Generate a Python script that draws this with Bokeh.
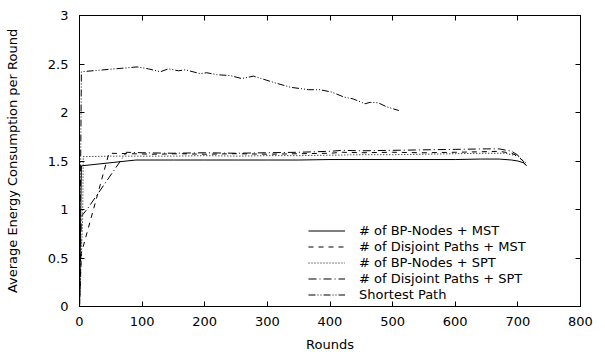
from bokeh.plotting import figure
from bokeh.models import Range1d, FixedTicker, LinearAxis, Legend, LegendItem, CustomJSTickFormatter
from bokeh.embed import file_html
from bokeh.resources import INLINE

# ---- data ----
x_ticks = [0, 100, 200, 300, 400, 500, 600, 700, 800]
y_ticks = [0, 0.5, 1, 1.5, 2, 2.5, 3]

bp_mst_x = [0, 3, 90, 150, 200, 250, 300, 350, 400, 450, 500, 550, 600, 640, 670, 690, 700, 710, 714]
bp_mst_y = [0, 1.45, 1.51, 1.51, 1.51, 1.51, 1.51, 1.51, 1.515, 1.515, 1.515, 1.515, 1.515, 1.52, 1.52, 1.51, 1.50, 1.48, 1.45]

dj_mst_x = [0, 3, 47, 80, 120, 160, 200, 250, 300, 350, 400, 420, 450, 500, 550, 600, 640, 670, 690, 700, 713]
dj_mst_y = [0, 0.55, 1.58, 1.575, 1.57, 1.575, 1.57, 1.575, 1.57, 1.575, 1.58, 1.59, 1.585, 1.59, 1.585, 1.59, 1.595, 1.60, 1.58, 1.55, 1.47]

bp_spt_x = [0, 5, 6, 50, 100, 150, 200, 250, 300, 350, 400, 450, 500, 550, 600, 650, 680, 700, 713]
bp_spt_y = [0, 0.9, 1.545, 1.55, 1.55, 1.55, 1.555, 1.55, 1.555, 1.555, 1.56, 1.565, 1.565, 1.57, 1.575, 1.58, 1.58, 1.55, 1.48]

dj_spt_x = [0, 3, 13, 75, 100, 150, 200, 250, 300, 350, 400, 420, 450, 500, 550, 600, 650, 670, 690, 700, 712]
dj_spt_y = [0, 0.93, 1.01, 1.59, 1.585, 1.58, 1.585, 1.58, 1.585, 1.59, 1.60, 1.61, 1.605, 1.61, 1.615, 1.62, 1.625, 1.625, 1.60, 1.56, 1.46]

sp_x = [0, 3, 92, 110, 129, 142, 158, 169, 193, 203, 219, 241, 259, 278, 310, 337, 366, 384, 403, 422, 437, 456, 464, 477, 490, 510]
sp_y = [0, 2.42, 2.47, 2.45, 2.42, 2.45, 2.43, 2.44, 2.40, 2.41, 2.39, 2.38, 2.35, 2.375, 2.31, 2.26, 2.235, 2.235, 2.21, 2.16, 2.14, 2.09, 2.105, 2.10, 2.06, 2.02]

labels = ["# of BP-Nodes + MST", "# of Disjoint Paths + MST", "# of BP-Nodes + SPT",
          "# of Disjoint Paths + SPT", "Shortest Path"]

FONT = "DejaVu Sans"
FS = "13px"

p = figure(width=605, height=354, output_backend="svg", toolbar_location=None,
           x_range=Range1d(0, 800), y_range=Range1d(0, 3),
           min_border_left=79, min_border_right=25, min_border_top=15, min_border_bottom=45)
p.grid.visible = False
p.outline_line_color = "black"
p.outline_line_width = 1
p.background_fill_color = "white"
p.border_fill_color = "white"

yfmt = CustomJSTickFormatter(code="return tick.toString();")
blank = CustomJSTickFormatter(code="return '';")

for ax in p.xaxis:
    ax.ticker = FixedTicker(ticks=x_ticks)
    ax.axis_label = "Rounds"
for ax in p.yaxis:
    ax.ticker = FixedTicker(ticks=y_ticks)
    ax.formatter = yfmt
    ax.axis_label = "Average Energy Consumption per Round"

for ax in p.xaxis + p.yaxis:
    ax.major_tick_in = 5
    ax.major_tick_out = 0
    ax.minor_tick_line_color = None
    ax.axis_line_color = "black"
    ax.major_tick_line_color = "black"
    ax.major_label_text_font = FONT
    ax.major_label_text_font_size = FS
    ax.major_label_text_color = "black"
    ax.axis_label_text_font = FONT
    ax.axis_label_text_font_size = FS
    ax.axis_label_text_font_style = "normal"
    ax.axis_label_text_color = "black"

p.xaxis.major_label_standoff = 10
p.xaxis.axis_label_standoff = 8
p.yaxis.major_label_standoff = 11
p.yaxis.axis_label_standoff = 25

# mirror ticks top / right
top = LinearAxis(ticker=FixedTicker(ticks=x_ticks), formatter=blank, major_tick_in=5, major_tick_out=0,
                 minor_tick_line_color=None, major_label_standoff=0, axis_line_color="black")
right = LinearAxis(ticker=FixedTicker(ticks=y_ticks), formatter=blank, major_tick_in=5, major_tick_out=0,
                   minor_tick_line_color=None, major_label_standoff=0, axis_line_color="black")
p.add_layout(top, "above")
p.add_layout(right, "right")

r1 = p.line(bp_mst_x, bp_mst_y, line_color="black", line_width=1)
r2 = p.line(dj_mst_x, dj_mst_y, line_color="black", line_width=1, line_dash="5 5")
r3 = p.line(bp_spt_x, bp_spt_y, line_color="black", line_width=1, line_dash="1 2")
r4 = p.line(dj_spt_x, dj_spt_y, line_color="black", line_width=1, line_dash="8 3 1 3")
r5 = p.line(sp_x, sp_y, line_color="black", line_width=1, line_dash="7 2 1 2 1 2")

legend = Legend(items=[LegendItem(label=l, renderers=[r]) for l, r in zip(labels, [r1, r2, r3, r4, r5])],
                location=(229, 4), padding=0, margin=0, spacing=1,
                label_height=15, glyph_height=15, glyph_width=37, label_standoff=14,
                label_text_font=FONT, label_text_font_size=FS, label_text_color="black",
                border_line_color=None, background_fill_alpha=0)
p.add_layout(legend)

open("out.html", "w").write(file_html(p, INLINE))
